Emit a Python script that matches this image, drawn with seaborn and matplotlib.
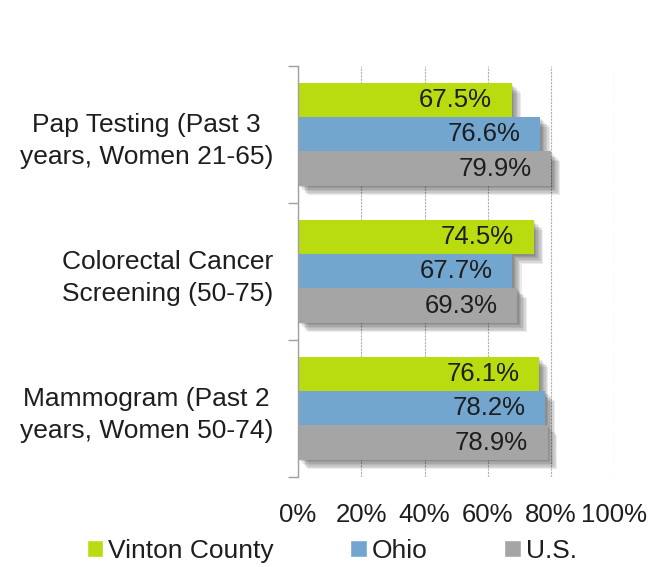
import matplotlib
matplotlib.use("Agg")
import matplotlib.pyplot as plt
import matplotlib.patheffects as pe
import pandas as pd
import seaborn as sns

categories = ["Pap Testing (Past 3\nyears, Women 21-65)",
              "Colorectal Cancer\nScreening (50-75)",
              "Mammogram (Past 2\nyears, Women 50-74)"]
series = ["Vinton County", "Ohio", "U.S."]
vinton = [67.5, 74.5, 76.1]
ohio = [76.6, 67.7, 78.2]
us = [79.9, 69.3, 78.9]
colors = ["#b8dc10", "#72a6cf", "#a5a5a5"]

rows = []
for name, vals in zip(series, [vinton, ohio, us]):
    for cat, v in zip(categories, vals):
        rows.append({"category": cat, "area": name, "value": v})
df = pd.DataFrame(rows)

sns.set_style("white")
plt.rcParams["font.family"] = ["Liberation Sans", "DejaVu Sans"]
txt = "#1e1e1e"

fig = plt.figure(figsize=(6.48, 5.67), dpi=100)
ax = fig.add_axes([0.46, 0.159, 0.488, 0.725])

sns.barplot(data=df, y="category", x="value", hue="area", order=categories,
            hue_order=series, palette=colors, orient="h", width=0.75,
            saturation=1, ax=ax, legend=True)

# soft drop shadow built from a few stacked offsets
shadow = [pe.SimplePatchShadow(offset=(o, -o), shadow_rgbFace="black", alpha=0.08)
          for o in (1, 2, 3, 4, 5, 6, 7)] + [pe.Normal()]
for cont in ax.containers:
    for patch in cont:
        patch.set_path_effects(shadow)
        patch.set_linewidth(0)

for cont in ax.containers:
    texts = ax.bar_label(cont, labels=[f"{v:.1f}%" for v in cont.datavalues],
                         padding=-14, label_type="edge", fontsize=18.5, color=txt)
    for t in texts:
        t.set_ha("right")

ax.set_xlim(0, 100)
ax.set_xticks([0, 20, 40, 60, 80, 100])
ax.set_xticklabels([f"{t}%" for t in [0, 20, 40, 60, 80, 100]], fontsize=18.5, color=txt)
ax.tick_params(axis="x", length=0, pad=19)
ax.set_xlabel("")
ax.set_ylabel("")
ax.set_yticks(range(len(categories)))
ax.set_yticklabels(categories, fontsize=19, color=txt, multialignment="center",
                   linespacing=1.45)
ax.tick_params(axis="y", which="major", length=0, pad=18)
ax.set_yticks([-0.5, 0.5, 1.5, 2.5], minor=True)
ax.tick_params(axis="y", which="minor", left=True, length=7, color="#a0a0a0",
               width=1, direction="out")
ax.set_ylim(2.5, -0.5)

ax.grid(axis="x", color="#b0b0b0", linestyle=(0, (2, 1)), linewidth=0.8)
ax.set_axisbelow(True)
for s in ["top", "right", "bottom"]:
    ax.spines[s].set_visible(False)
ax.spines["left"].set_color("#a0a0a0")
ax.spines["left"].set_linewidth(1)

handles, labels = ax.get_legend_handles_labels()
ax.legend_.remove()
leg = fig.legend(handles, labels, loc="lower center", bbox_to_anchor=(0.512, -0.035), ncol=3,
                 frameon=False, fontsize=19, handlelength=0.62, handleheight=0.62,
                 handletextpad=0.2, columnspacing=2.9)
for h in leg.legend_handles:
    h.set_path_effects([])
for t in leg.get_texts():
    t.set_color(txt)

fig.savefig("out.png", dpi=100)
